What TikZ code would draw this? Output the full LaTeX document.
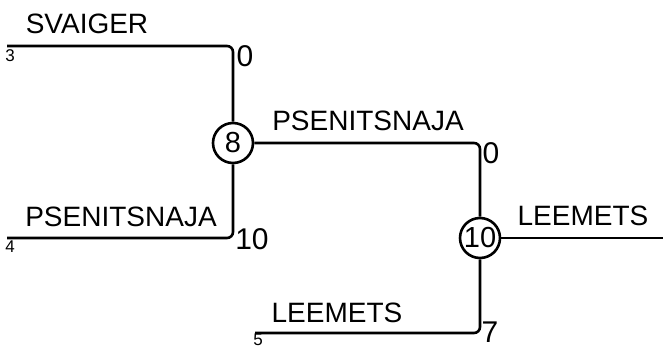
\documentclass[tikz,border=0pt]{standalone}
\usepackage{fontspec}
\setmainfont{Liberation Sans}
\usetikzlibrary{positioning}

\begin{document}
\begin{tikzpicture}[x=1pt, y=-1pt, line width=2.6pt,
    match/.style={circle, draw, inner sep=0pt, minimum size=40pt,
      font=\fontsize{29}{29}\selectfont},
    player/.style={inner sep=0pt, font=\fontsize{28}{28}\selectfont},
    score/.style={inner sep=0pt, font=\fontsize{30}{30}\selectfont},
    seed/.style={inner sep=0pt, font=\fontsize{17}{17}\selectfont}]

    \useasboundingbox (0,0) rectangle (663,348);

    % Matches
    \node[match] (m8) at (233,143) {8};
    \node[match] (m10) at (480,238) {10};

    % Entry lines
    \coordinate (e3) at (7,46);
    \coordinate (e4) at (7,238);
    \coordinate (e5) at (255,333);
    \coordinate (win) at (663,238);

    \draw[rounded corners=6pt] (e3) -| (m8);
    \draw[rounded corners=6pt] (e4) -| (m8);
    \draw[rounded corners=6pt] (m8) -| (m10);
    \draw[rounded corners=6pt] (e5) -| (m10);
    \draw (m10) -- (win);

    % Names
    \node[player] (p3) at (87,24) {SVAIGER};
    \node[player] (p4) at (121,217) {PSENITSNAJA};
    \node[player] (p8) at (368,121) {PSENITSNAJA};
    \node[player] (p5) at (337,313) {LEEMETS};
    \node[player] (p10) at (583,216) {LEEMETS};

    % Scores
    \foreach \n/\x/\y/\t in {s3/245/56/0, s4/252/239/10, s8/491/153/0, s5/490/332/7} {
        \node[score] (\n) at (\x,\y) {\t};
    }

    % Seeds
    \foreach \n/\x/\y/\t in {d3/10/56/3, d4/10/247/4, d5/258/340/5} {
        \node[seed] (\n) at (\x,\y) {\t};
    }

\end{tikzpicture}
\end{document}
